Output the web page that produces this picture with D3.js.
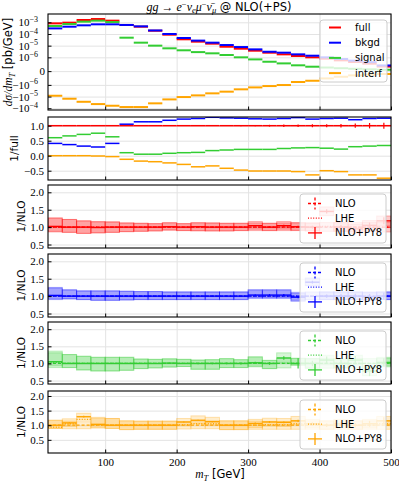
<!DOCTYPE html>
<html>
<head>
<meta charset="utf-8">
<script src="https://cdn.jsdelivr.net/npm/d3@7"></script>
<style>
  body { margin: 0; background: #fff; }
  svg { display: block; }
  .tick text { font-family: "Liberation Serif", serif; font-size: 11px; fill: #000; }
</style>
</head>
<body>
<svg id="chart" width="399" height="482"></svg>
<script>
// m_T bins, 20 GeV wide (lower edges)
const binLo = [20, 40, 60, 80, 100, 120, 140, 160, 180, 200, 220, 240,
               260, 280, 300, 320, 340, 360, 380, 400, 420, 440, 460, 480];
const binWidth = 20;

// top panel, dsigma/dmT [pb/GeV]
const full   = [8.1e-4, 9.3e-4, 1.58e-3, 1.9e-3, 1.38e-3, 5.9e-4, 4.2e-4, 1.9e-4, 8.7e-5, 3.5e-5, 2.2e-5, 1.48e-5,
                8.1e-6, 5.5e-6, 3.7e-6, 2.5e-6, 1.8e-6, 1.3e-6, 1.0e-6, 9.0e-7, 7.8e-7, 6.6e-7, 5.4e-7, 3.3e-7];
const bkgd   = [3.0e-4, 4.2e-4, 5.5e-4, 6.7e-4, 6.7e-4, 5.9e-4, 4.5e-4, 2.0e-4, 1.0e-4, 4.5e-5, 2.7e-5, 1.8e-5,
                1.13e-5, 7.6e-6, 4.8e-6, 3.0e-6, 2.5e-6, 1.8e-6, 1.38e-6, 1.0e-6, 8.8e-7, 7.6e-7, 6.5e-7, 4.1e-7];
const signal = [4.8e-4, 7.1e-4, 1.13e-3, 1.38e-3, 1.05e-3, 4.8e-5, 1.8e-5, 1.0e-5, 5.9e-6, 4.0e-6, 2.8e-6, 2.2e-6,
                1.58e-6, 1.0e-6, 8.5e-7, 6.8e-7, 5.6e-7, 4.2e-7, 3.2e-7, 2.6e-7, 2.1e-7, 1.7e-7, 1.3e-7, 1.0e-7];
const interf = [-8.5e-6, -1.53e-5, -2.8e-5, -4.4e-5, -6.1e-5, -7.9e-5, -7.9e-5, -3.8e-5, -1.75e-5, -1.1e-5, -7.9e-6, -5.3e-6,
                -3.8e-6, -2.4e-6, -1.64e-6, -1.26e-6, -1.03e-6, -7.9e-7, -7.0e-7, -5.3e-7, -4.1e-7, -3.1e-7, -2.6e-7, -2.1e-7];

// second panel, ratio to full
const rBkgd   = [0.41, 0.37, 0.32, 0.29, 0.41, 1.05, 1.13, 1.13, 1.18, 1.22, 1.24, 1.28,
                 1.26, 1.25, 1.23, 1.22, 1.24, 1.27, 1.22, 1.24, 1.25, 1.2, 1.24, 1.25];
const rSignal = [0.60, 0.66, 0.71, 0.75, 0.63, 0.10, 0.05, 0.05, 0.08, 0.10, 0.11, 0.17,
                 0.19, 0.21, 0.21, 0.21, 0.24, 0.26, 0.27, 0.25, 0.22, 0.30, 0.32, 0.34];
const rInterf = [0.0, 0.0, 0.0, -0.01, -0.03, -0.12, -0.18, -0.20, -0.24, -0.29, -0.37, -0.34,
                 -0.42, -0.48, -0.51, -0.51, -0.51, -0.53, -0.64, -0.50, -0.53, -0.64, -0.64, -0.75];
const rFullErr = [0, 0, 0, 0, 0, 0, 0, 0, 0, 0, 0.01, 0.01,
                  0.01, 0.015, 0.02, 0.03, 0.04, 0.04, 0.05, 0.05, 0.06, 0.07, 0.09, 0.1];

// ratio to NLO panels: NLO scale band, NLO+PY8, LHE, stat error of NLO+PY8
const redLo  = [0.86, 0.85, 0.82, 0.84, 0.85, 0.87, 0.88, 0.89, 0.91, 0.90, 0.89, 0.89, 0.89, 0.90, 0.90, 0.90, 0.90, 0.90, 0.89, 0.88, 0.88, 0.87, 0.87, 0.86];
const redHi  = [1.25, 1.22, 1.18, 1.16, 1.15, 1.12, 1.11, 1.10, 1.12, 1.10, 1.12, 1.12, 1.11, 1.11, 1.12, 1.11, 1.12, 1.12, 1.12, 1.13, 1.13, 1.13, 1.14, 1.14];
const redPy  = [1.02, 1.00, 1.00, 0.99, 1.00, 1.00, 1.00, 1.00, 1.01, 1.00, 1.01, 1.00, 1.00, 1.00, 1.04, 1.00, 1.04, 1.01, 1.00, 1.45, 1.00, 0.95, 1.05, 1.18];
const redLhe = [0.99, 1.00, 1.00, 1.00, 1.00, 1.00, 1.00, 1.00, 1.00, 1.00, 1.00, 1.00, 1.00, 1.00, 1.00, 1.00, 1.00, 1.00, 1.00, 1.02, 1.00, 1.00, 1.00, 1.00];
const redErr = [0.01, 0.01, 0.01, 0.01, 0.01, 0.01, 0.01, 0.01, 0.01, 0.01, 0.015, 0.015, 0.015, 0.02, 0.02, 0.025, 0.03, 0.03, 0.04, 0.06, 0.06, 0.07, 0.08, 0.1];

const blueLo  = [0.90, 0.92, 0.90, 0.88, 0.88, 0.89, 0.90, 0.90, 0.90, 0.90, 0.90, 0.90, 0.90, 0.90, 0.93, 0.93, 0.93, 0.88, 0.90, 0.90, 0.90, 0.90, 0.90, 0.90];
const blueHi  = [1.23, 1.18, 1.15, 1.15, 1.15, 1.14, 1.13, 1.13, 1.12, 1.12, 1.12, 1.12, 1.12, 1.12, 1.16, 1.16, 1.16, 1.11, 1.12, 1.12, 1.12, 1.12, 1.12, 1.12];
const bluePy  = [1.02, 1.00, 1.00, 1.00, 1.00, 1.00, 1.00, 1.00, 1.00, 1.00, 1.00, 1.00, 1.00, 1.00, 1.03, 1.03, 1.03, 0.97, 1.40, 1.00, 1.00, 1.00, 0.98, 1.00];
const blueLhe = [1.00, 1.00, 1.00, 1.00, 1.00, 1.00, 1.00, 1.00, 1.00, 1.00, 1.00, 1.00, 1.00, 1.00, 1.00, 1.00, 1.00, 1.00, 1.00, 1.00, 1.00, 1.00, 1.00, 1.00];
const blueErr = [0.01, 0.01, 0.01, 0.01, 0.01, 0.01, 0.01, 0.01, 0.01, 0.01, 0.015, 0.015, 0.015, 0.02, 0.02, 0.025, 0.03, 0.03, 0.04, 0.05, 0.06, 0.07, 0.08, 0.1];

const greenLo  = [0.88, 0.88, 0.81, 0.78, 0.78, 0.80, 0.85, 0.87, 0.89, 0.91, 0.83, 0.83, 0.88, 0.88, 0.90, 0.85, 0.87, 0.95, 0.86, 0.86, 0.87, 0.86, 0.86, 0.90];
const greenHi  = [1.31, 1.26, 1.21, 1.18, 1.18, 1.18, 1.13, 1.12, 1.13, 1.12, 1.10, 1.11, 1.14, 1.11, 1.18, 1.09, 1.15, 1.15, 1.14, 1.14, 1.13, 1.14, 1.14, 1.15];
const greenPy  = [1.05, 1.00, 1.00, 1.00, 1.00, 1.00, 1.00, 1.00, 1.01, 1.00, 1.00, 1.00, 1.00, 1.00, 1.02, 1.00, 1.16, 1.00, 1.00, 1.10, 1.00, 1.10, 0.78, 1.03];
const greenLhe = [1.03, 1.00, 1.00, 1.00, 1.00, 1.00, 1.00, 1.00, 1.00, 1.00, 1.00, 1.00, 1.00, 1.00, 1.00, 1.00, 1.00, 1.00, 1.00, 1.00, 1.00, 1.00, 1.00, 1.00];
const greenErr = [0.01, 0.01, 0.01, 0.01, 0.01, 0.01, 0.01, 0.01, 0.015, 0.015, 0.02, 0.02, 0.025, 0.03, 0.03, 0.04, 0.05, 0.15, 0.08, 0.1, 0.1, 0.12, 0.15, 0.12];

const orangeLo  = [0.89, 0.88, 0.88, 0.90, 0.89, 0.85, 0.86, 0.86, 0.86, 0.87, 0.88, 0.88, 0.85, 0.85, 0.86, 0.86, 0.86, 0.86, 0.86, 0.86, 0.86, 0.86, 0.86, 0.86];
const orangeHi  = [1.17, 1.14, 1.12, 1.24, 1.23, 1.15, 1.14, 1.14, 1.14, 1.12, 1.15, 1.15, 1.15, 1.15, 1.14, 1.13, 1.13, 1.15, 1.15, 1.15, 1.15, 1.15, 1.15, 1.15];
const orangePy  = [1.00, 1.08, 1.29, 1.03, 1.00, 1.00, 1.00, 1.00, 1.00, 1.11, 1.17, 1.12, 1.00, 1.00, 1.06, 1.11, 1.10, 1.15, 1.05, 1.00, 1.05, 1.00, 1.05, 1.15];
const orangeLhe = [0.93, 1.05, 1.20, 1.00, 1.00, 1.00, 1.00, 1.00, 1.00, 1.02, 1.05, 1.05, 1.00, 1.00, 1.00, 1.02, 1.02, 1.05, 1.00, 1.00, 1.00, 1.00, 1.00, 1.05];
const orangeErr = [0.01, 0.02, 0.03, 0.01, 0.01, 0.01, 0.01, 0.01, 0.01, 0.02, 0.02, 0.02, 0.02, 0.02, 0.03, 0.03, 0.03, 0.04, 0.05, 0.06, 0.07, 0.08, 0.1, 0.12];

const xTicks = [100, 200, 300, 400, 500];
const mainTicks = [1e-3, 1e-4, 1e-5, 1e-6, 0, -1e-6, -1e-5, -1e-4];
const ratioTicks = [1.0, 0.5, 0.0, -0.5];
const nloTicks = [2.0, 1.5, 1.0, 0.5];

const RED = "#ff0000", BLUE = "#0000ff", GREEN = "#32cd32", ORANGE = "#ffa500";
const SANS = "'DejaVu Sans', sans-serif", SERIF = "'Liberation Serif', serif";

// panel boxes (pixels)
const P = [
  { top: 14,  bottom: 110 },
  { top: 117, bottom: 180 },
  { top: 185, bottom: 248 },
  { top: 254, bottom: 317 },
  { top: 322, bottom: 384 },
  { top: 391, bottom: 453 }
];
const xLeft = 48, xRight = 391;

const svg = d3.select("#chart");
const defs = svg.append("defs");
const x = d3.scaleLinear().domain([20, 500]).range([xLeft, xRight]);

P.forEach((p, i) => {
  defs.append("clipPath").attr("id", "clip" + i)
    .append("rect").attr("x", xLeft).attr("y", p.top)
    .attr("width", xRight - xLeft).attr("height", p.bottom - p.top);
});

// grid lines under data
function grid(i, yScale, vals) {
  const p = P[i];
  svg.append("g").attr("transform", `translate(0,${p.bottom})`)
    .call(d3.axisBottom(x).tickValues(xTicks).tickSize(-(p.bottom - p.top)).tickFormat(""))
    .call(g => g.select(".domain").remove())
    .call(g => g.selectAll("line").attr("stroke", "#e3e3e3").attr("stroke-width", 1));
  svg.append("g").attr("transform", `translate(${xLeft},0)`)
    .call(d3.axisLeft(yScale).tickValues(vals).tickSize(-(xRight - xLeft)).tickFormat(""))
    .call(g => g.select(".domain").remove())
    .call(g => g.selectAll("line").attr("stroke", "#e3e3e3").attr("stroke-width", 1));
}

// frame + inward ticks over data
function frame(i, yScale, vals, fmt, showX) {
  const p = P[i];
  const ax = svg.append("g").attr("transform", `translate(0,${p.bottom})`)
    .call(d3.axisBottom(x).tickValues(xTicks).tickSize(-3.5).tickPadding(5)
      .tickFormat(showX ? d3.format("d") : ""));
  ax.select(".domain").remove();
  ax.selectAll("line").attr("stroke", "#000");
  const ay = svg.append("g").attr("transform", `translate(${xLeft},0)`)
    .call(d3.axisLeft(yScale).tickValues(vals).tickSize(-3.5).tickPadding(4).tickFormat(fmt || ""));
  ay.select(".domain").remove();
  ay.selectAll("line").attr("stroke", "#000");
  svg.append("rect").attr("x", xLeft).attr("y", p.top)
    .attr("width", xRight - xLeft).attr("height", p.bottom - p.top)
    .attr("fill", "none").attr("stroke", "#000").attr("stroke-width", 1.1);
  return ay;
}

function steps(g, vals, yScale, color, width, dash) {
  g.append("g").selectAll("line").data(vals).join("line")
    .attr("x1", (d, i) => x(binLo[i])).attr("x2", (d, i) => x(binLo[i] + binWidth))
    .attr("y1", d => yScale(d)).attr("y2", d => yScale(d))
    .attr("stroke", color).attr("stroke-width", width)
    .attr("stroke-dasharray", dash || null);
}

function errBars(g, vals, errs, yScale, color, width) {
  g.append("g").selectAll("line").data(vals).join("line")
    .attr("x1", (d, i) => x(binLo[i] + binWidth / 2)).attr("x2", (d, i) => x(binLo[i] + binWidth / 2))
    .attr("y1", (d, i) => yScale(d - errs[i])).attr("y2", (d, i) => yScale(d + errs[i]))
    .attr("stroke", color).attr("stroke-width", width);
}

// ---------- panel 1: distributions, symlog y ----------
const linthresh = 1e-6, linscale = 1.18;
function symlog(v) {
  const a = Math.abs(v);
  if (a <= linthresh) return v / linthresh * linscale;
  return Math.sign(v) * (linscale + Math.log10(a / linthresh));
}
const yMainT = d3.scaleLinear().domain([-3.33, 4.89]).range([P[0].bottom, P[0].top]);
const yMain = v => yMainT(symlog(v));

grid(0, yMainT, mainTicks.map(symlog));
const g0 = svg.append("g").attr("clip-path", "url(#clip0)");
steps(g0, full, yMain, RED, 2);
steps(g0, bkgd, yMain, BLUE, 2);
steps(g0, signal, yMain, GREEN, 2);
steps(g0, interf, yMain, ORANGE, 2);

// legend
const mainLeg = [["full", RED], ["bkgd", BLUE], ["signal", GREEN], ["interf", ORANGE]];
svg.append("rect").attr("x", 320).attr("y", 20).attr("width", 67).attr("height", 62)
  .attr("rx", 3).attr("fill", "#fff").attr("fill-opacity", 0.8).attr("stroke", "#cccccc");
mainLeg.forEach(([name, c], k) => {
  const yy = 27.5 + k * 15.2;
  svg.append("line").attr("x1", 329).attr("x2", 341).attr("y1", yy).attr("y2", yy)
    .attr("stroke", c).attr("stroke-width", 2);
  svg.append("text").attr("x", 355).attr("y", yy).attr("dy", "0.35em")
    .attr("font-family", SANS).attr("font-size", 10).text(name);
});

const ay0 = frame(0, yMainT, mainTicks.map(symlog), null, false);
ay0.selectAll(".tick").each(function(d, i) {
  const v = mainTicks[i];
  const t = d3.select(this).append("text").attr("fill", "#000").attr("dy", "0.32em")
    .attr("text-anchor", "end");
  if (v === 0) { t.attr("x", -3).text("0"); return; }
  const e = Math.round(Math.log10(Math.abs(v)));
  t.attr("x", -10);
  t.append("tspan").text((v < 0 ? "\u2212" : "") + "10");
  t.append("tspan").attr("dy", -4.5).attr("font-size", 8).text("\u2212" + Math.abs(e));
});

// ---------- panel 2: ratio to full ----------
const yR = d3.scaleLinear().domain([-0.81, 1.29]).range([P[1].bottom, P[1].top]);
grid(1, yR, ratioTicks);
const g1 = svg.append("g").attr("clip-path", "url(#clip1)");
steps(g1, rBkgd, yR, BLUE, 1.5);
steps(g1, rSignal, yR, GREEN, 1.5);
steps(g1, rInterf, yR, ORANGE, 1.5);
const ones = binLo.map(() => 1);
steps(g1, ones, yR, RED, 1.5);
errBars(g1, ones, rFullErr, yR, RED, 1.2);
frame(1, yR, ratioTicks, d => d3.format(".1f")(d).replace("-", "\u2212"), false);

// ---------- panels 3-6: ratio to NLO ----------
const subs = [
  { i: 2, c: RED,    lo: redLo,    hi: redHi,    py: redPy,    lhe: redLhe,    err: redErr,    dom: [0.40, 2.21] },
  { i: 3, c: BLUE,   lo: blueLo,   hi: blueHi,   py: bluePy,   lhe: blueLhe,   err: blueErr,   dom: [0.40, 2.21] },
  { i: 4, c: GREEN,  lo: greenLo,  hi: greenHi,  py: greenPy,  lhe: greenLhe,  err: greenErr,  dom: [0.40, 2.21] },
  { i: 5, c: ORANGE, lo: orangeLo, hi: orangeHi, py: orangePy, lhe: orangeLhe, err: orangeErr, dom: [0.05, 2.17] }
];

subs.forEach(s => {
  const p = P[s.i];
  const y = d3.scaleLinear().domain(s.dom).range([p.bottom, p.top]);
  grid(s.i, y, nloTicks);
  const g = svg.append("g").attr("clip-path", `url(#clip${s.i})`);
  // NLO band and shifted NLO+PY8 band
  [0, 1].forEach(k => {
    g.append("g").selectAll("rect").data(binLo).join("rect")
      .attr("x", b => x(b)).attr("width", b => x(b + binWidth) - x(b))
      .attr("y", (b, j) => y(s.hi[j] + (k ? s.py[j] - 1 : 0)))
      .attr("height", (b, j) => y(s.lo[j]) - y(s.hi[j]))
      .attr("fill", s.c).attr("fill-opacity", 0.2)
      .attr("stroke", s.c).attr("stroke-opacity", 0.28).attr("stroke-width", 1);
  });
  steps(g, ones, y, s.c, 1.3, "3,2");
  steps(g, s.lhe, y, s.c, 1.3, "1,1.6");
  steps(g, s.py, y, s.c, 1.4);
  errBars(g, s.py, s.err, y, s.c, 1.2);

  // legend
  const lx = 300, ly = p.top + 9;
  svg.append("rect").attr("x", lx).attr("y", ly).attr("width", 86).attr("height", 49)
    .attr("rx", 3).attr("fill", "#fff").attr("fill-opacity", 0.8).attr("stroke", "#cccccc");
  const mx = 315;
  const rows = [["NLO", "3,2"], ["LHE", "dot"], ["NLO+PY8", null]];
  rows.forEach(([name, st], k) => {
    const yy = ly + 9.5 + k * 14.7;
    if (st === "dot") {
      svg.append("line").attr("x1", mx - 7).attr("x2", mx + 7).attr("y1", yy).attr("y2", yy)
        .attr("stroke", s.c).attr("stroke-width", 1.3).attr("stroke-dasharray", "1,1.6");
    } else {
      svg.append("line").attr("x1", mx - 7).attr("x2", mx + 7).attr("y1", yy).attr("y2", yy)
        .attr("stroke", s.c).attr("stroke-width", 1.3).attr("stroke-dasharray", st);
      svg.append("line").attr("x1", mx).attr("x2", mx).attr("y1", yy - 6).attr("y2", yy + 6)
        .attr("stroke", s.c).attr("stroke-width", 1.3).attr("stroke-dasharray", st);
    }
    svg.append("text").attr("x", 335).attr("y", yy).attr("dy", "0.35em")
      .attr("font-family", SANS).attr("font-size", 10).text(name);
  });

  frame(s.i, y, nloTicks, d3.format(".1f"), s.i === 5);
});

// ---------- labels ----------
const title = svg.append("text").attr("x", 219).attr("y", 10.5).attr("text-anchor", "middle")
  .attr("font-size", 12);
const tt = [
  ["gg", "i", 0, 12], [" \u2192 ", "r", 0, 12], ["e", "i", 0, 12], ["\u2212", "r", -4, 8.5], ["\u03bd", "i", 4, 12],
  ["e", "i", 2.5, 8.5], ["\u03bc", "i", -2.5, 12], ["\u2212", "r", -4, 8.5], ["\u03bd\u0304", "i", 4, 12], ["\u03bc", "i", 2.5, 8.5]
];
tt.forEach(([t, st, dy, fs]) => {
  title.append("tspan").attr("font-family", SERIF)
    .attr("font-style", st === "i" ? "italic" : null)
    .attr("font-size", fs).attr("dy", dy).text(t);
});
title.append("tspan").attr("dy", -2.5).attr("font-family", SANS).attr("font-size", 11.5).text(" @ NLO(+PS)");

// y labels
const yl = svg.append("text").attr("transform", "translate(12,62) rotate(-90)")
  .attr("text-anchor", "middle").attr("font-size", 11.5);
yl.append("tspan").attr("font-family", SERIF).attr("font-style", "italic").text("d\u03c3/dm");
yl.append("tspan").attr("font-family", SERIF).attr("font-style", "italic").attr("font-size", 8.5).attr("dy", 2.5).text("T");
yl.append("tspan").attr("font-family", SANS).attr("dy", -2.5).text(" [pb/GeV]");

svg.append("text").attr("transform", `translate(18,${(P[1].top + P[1].bottom) / 2}) rotate(-90)`)
  .attr("text-anchor", "middle").attr("font-family", SANS).attr("font-size", 10.5).text("1/full");
[2, 3, 4, 5].forEach(i => {
  svg.append("text").attr("transform", `translate(25,${(P[i].top + P[i].bottom) / 2}) rotate(-90)`)
    .attr("text-anchor", "middle").attr("font-family", SANS).attr("font-size", 10.5).text("1/NLO");
});

const xl = svg.append("text").attr("x", 220).attr("y", 478).attr("text-anchor", "middle").attr("font-size", 11.5);
xl.append("tspan").attr("font-family", SERIF).attr("font-style", "italic").text("m");
xl.append("tspan").attr("font-family", SERIF).attr("font-style", "italic").attr("font-size", 8.5).attr("dy", 2.5).text("T");
xl.append("tspan").attr("font-family", SANS).attr("dy", -2.5).text(" [GeV]");
</script>
</body>
</html>
